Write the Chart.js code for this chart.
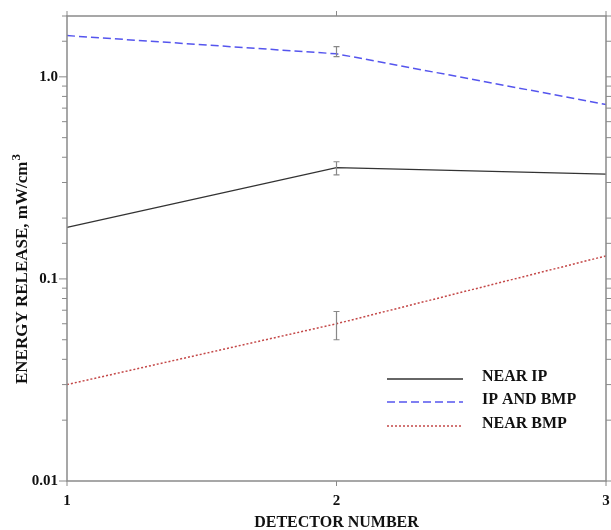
<!DOCTYPE html>
<html>
<head>
<meta charset="utf-8">
<script src="https://cdn.jsdelivr.net/npm/chart.js@4/dist/chart.umd.min.js"></script>
<style>
  html, body { margin: 0; padding: 0; background: #fff; }
  #wrap { width: 611px; height: 530px; }
</style>
</head>
<body>
<div id="wrap"><canvas id="chart" width="611" height="530"></canvas></div>
<script>
// dados
const detectores = ['1', '2', '3'];
const nearIp = [0.18, 0.355, 0.33];
const ipAndBmp = [1.6, 1.30, 0.73];
const nearBmp = [0.030, 0.060, 0.13];

// barras de erro (só no detector 2)
const nearIpLow = [null, 0.327, null];
const nearIpHigh = [null, 0.38, null];
const ipAndBmpLow = [null, 1.26, null];
const ipAndBmpHigh = [null, 1.41, null];
const nearBmpLow = [null, 0.050, null];
const nearBmpHigh = [null, 0.069, null];

const yMajorLabels = { 0.01: '0.01', 0.1: '0.1', 1: '1.0' };

const AXIS = '#8a8a8a';
const FONT = 'Liberation Serif';

// moldura, ticks para fora, barras de erro, legenda e título do eixo y
const moldura = {
  id: 'moldura',
  afterDatasetsDraw(chart) {
    const ctx = chart.ctx;
    const a = chart.chartArea;
    const xs = chart.scales.x;
    const ys = chart.scales.y;
    ctx.save();

    // barras de erro
    const erros = [
      [nearIpLow, nearIpHigh],
      [ipAndBmpLow, ipAndBmpHigh],
      [nearBmpLow, nearBmpHigh]
    ];
    ctx.strokeStyle = '#888';
    ctx.lineWidth = 1.2;
    erros.forEach(([lo, hi]) => {
      lo.forEach((v, i) => {
        if (v == null) return;
        const px = xs.getPixelForValue(i);
        const y1 = ys.getPixelForValue(v);
        const y2 = ys.getPixelForValue(hi[i]);
        ctx.beginPath();
        ctx.moveTo(px, y1); ctx.lineTo(px, y2);
        ctx.moveTo(px - 3, y1); ctx.lineTo(px + 3, y1);
        ctx.moveTo(px - 3, y2); ctx.lineTo(px + 3, y2);
        ctx.stroke();
      });
    });

    // moldura
    ctx.strokeStyle = AXIS;
    ctx.lineWidth = 1.5;
    ctx.strokeRect(a.left, a.top, a.right - a.left, a.bottom - a.top);

    // ticks do eixo y (esquerda e direita)
    ctx.lineWidth = 1;
    ys.ticks.forEach(t => {
      const py = ys.getPixelForValue(t.value);
      const lg = Math.log10(t.value);
      const major = Math.abs(lg - Math.round(lg)) < 1e-6;
      const len = major ? 8 : 5;
      ctx.beginPath();
      ctx.moveTo(a.left - len, py); ctx.lineTo(a.left, py);
      ctx.moveTo(a.right, py); ctx.lineTo(a.right + len, py);
      ctx.stroke();
    });

    // ticks do eixo x (baixo e cima)
    xs.ticks.forEach((t, i) => {
      const px = xs.getPixelForValue(i);
      ctx.beginPath();
      ctx.moveTo(px, a.bottom); ctx.lineTo(px, a.bottom + 5);
      ctx.moveTo(px, a.top - 5); ctx.lineTo(px, a.top);
      ctx.stroke();
    });

    // legenda
    const lx = 387, lw = 76, tx = 482;
    const rows = [379, 402, 426];
    ctx.font = 'bold 16px "' + FONT + '"';
    ctx.textBaseline = 'alphabetic';
    chart.data.datasets.forEach((ds, i) => {
      const y = rows[i];
      ctx.strokeStyle = ds.borderColor;
      ctx.lineWidth = ds.borderWidth;
      ctx.setLineDash(ds.borderDash || []);
      ctx.beginPath();
      ctx.moveTo(lx, y); ctx.lineTo(lx + lw, y);
      ctx.stroke();
      ctx.setLineDash([]);
      ctx.fillStyle = '#111';
      ctx.fillText(ds.label, tx, y + 2);
    });

    // título do eixo y com expoente
    ctx.translate(27, 384);
    ctx.rotate(-Math.PI / 2);
    ctx.fillStyle = '#111';
    ctx.font = 'bold 17px "' + FONT + '"';
    const base = 'ENERGY RELEASE, mW/cm';
    ctx.fillText(base, 0, 0);
    const w = ctx.measureText(base).width;
    ctx.font = 'bold 13px "' + FONT + '"';
    ctx.fillText('3', w + 1, -7);

    ctx.restore();
  }
};

const ctx = document.getElementById('chart').getContext('2d');
const grafico = new Chart(ctx, {
  type: 'line',
  data: {
    labels: detectores,
    datasets: [
      {
        label: 'NEAR IP',
        data: nearIp,
        borderColor: '#333',
        borderWidth: 1.3,
        pointRadius: 0,
        tension: 0,
        fill: false
      },
      {
        label: 'IP AND BMP',
        data: ipAndBmp,
        borderColor: '#5555ee',
        borderWidth: 1.5,
        borderDash: [8, 4],
        pointRadius: 0,
        tension: 0,
        fill: false
      },
      {
        label: 'NEAR BMP',
        data: nearBmp,
        borderColor: '#c44848',
        borderWidth: 1.5,
        borderDash: [2, 2],
        pointRadius: 0,
        tension: 0,
        fill: false
      }
    ]
  },
  options: {
    responsive: false,
    animation: false,
    layout: { autoPadding: false, padding: { top: 16, right: 5, left: 0, bottom: 0 } },
    plugins: {
      legend: { display: false },
      tooltip: { enabled: false }
    },
    scales: {
      x: {
        type: 'category',
        offset: false,
        grid: { display: false, drawTicks: false },
        border: { display: false },
        ticks: {
          color: '#111',
          padding: 11,
          maxRotation: 0,
          font: { family: FONT, size: 15, weight: 'bold' }
        },
        title: {
          display: true,
          text: 'DETECTOR NUMBER',
          color: '#111',
          padding: { top: 0, bottom: -2 },
          font: { family: FONT, size: 16, weight: 'bold' }
        },
        afterFit: function(scale) {
          scale.height = 49;
          scale.paddingLeft = 0;
          scale.paddingRight = 0;
        }
      },
      y: {
        type: 'logarithmic',
        min: 0.01,
        max: 2,
        grid: { display: false, drawTicks: false },
        border: { display: false },
        ticks: {
          color: '#111',
          padding: 9,
          autoSkip: false,
          font: { family: FONT, size: 15, weight: 'bold' },
          callback: function(value) {
            for (const k in yMajorLabels) {
              if (Math.abs(value - Number(k)) < 1e-9) return yMajorLabels[k];
            }
            return '';
          }
        },
        afterFit: function(scale) {
          scale.width = 67;
          scale.paddingTop = 0;
          scale.paddingBottom = 0;
        }
      }
    }
  },
  plugins: [moldura]
});
</script>
</body>
</html>
